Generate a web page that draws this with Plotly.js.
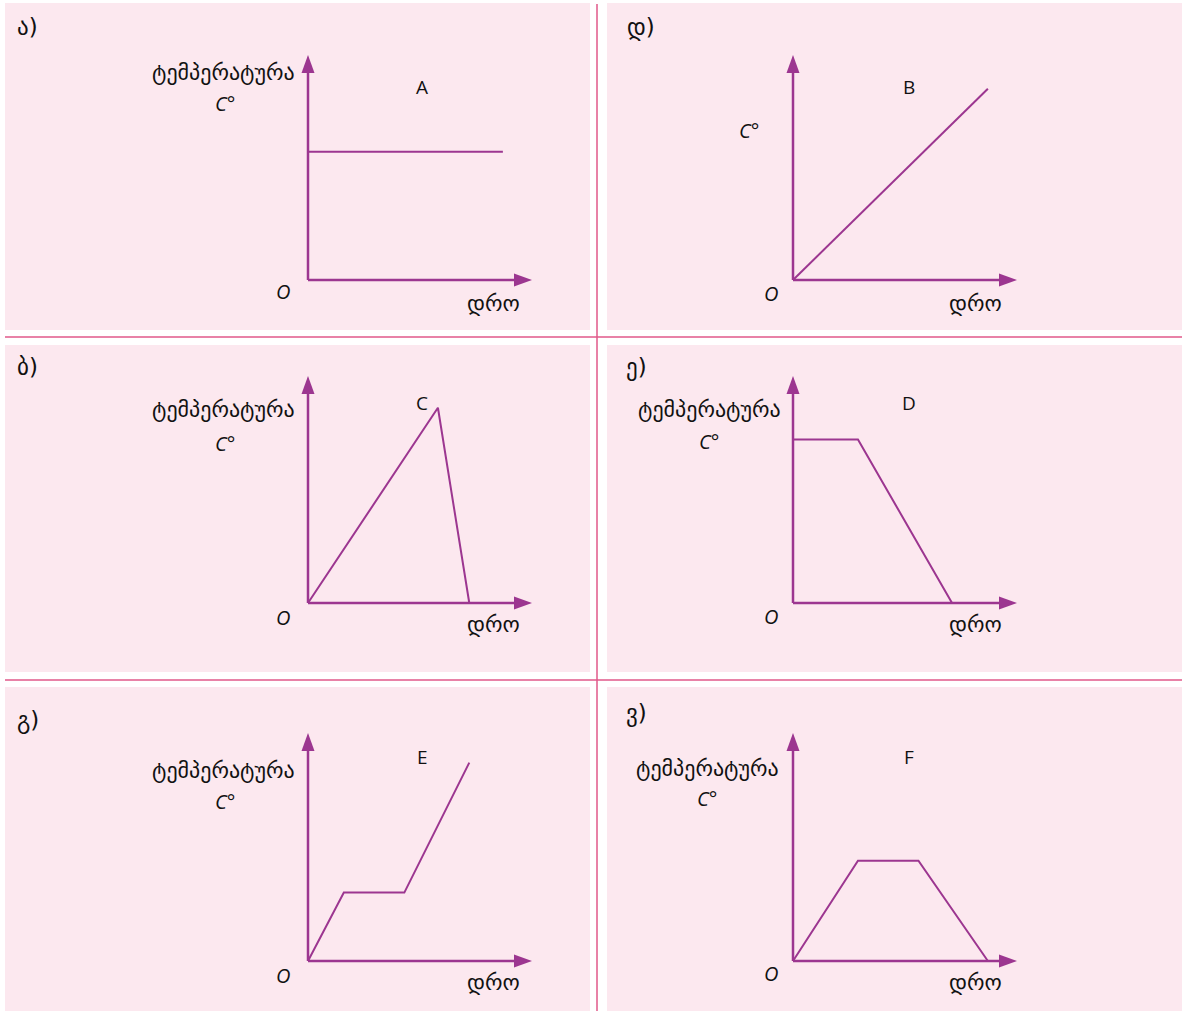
<!DOCTYPE html>
<html>
<head>
<meta charset="utf-8">
<script src="https://cdn.plot.ly/plotly-3.0.1.min.js"></script>
<style>html,body{margin:0;padding:0;background:#fff;}#chart{width:1182px;height:1011px;}</style>
</head>
<body>
<div id="chart"></div>
<script>
// ---------- data (axis units 0..10) ----------
const panelLetters = ['ა)', 'დ)', 'ბ)', 'ე)', 'გ)', 'ვ)'];
const seriesNames  = ['A', 'B', 'C', 'D', 'E', 'F'];
const tempLabel = 'ტემპერატურა';
const unitLabel = 'C°';
const originLabel = 'O';
const timeLabel = 'დრო';
const showTempLabel = [true, false, true, true, true, true];

const timeA = [0, 8.7];            const tempA = [5.7, 5.7];
const timeB = [0, 8.7];            const tempB = [0, 8.5];
const timeC = [0, 5.8, 7.2];       const tempC = [0, 8.6, 0];
const timeD = [0, 2.9, 7.1];       const tempD = [7.2, 7.2, 0];
const timeE = [0, 1.6, 4.3, 7.2];  const tempE = [0, 3.0, 3.0, 8.7];
const timeF = [0, 2.9, 5.6, 8.7];  const tempF = [0, 4.4, 4.4, 0];
const axisMax = 10;

const times = [timeA, timeB, timeC, timeD, timeE, timeF];
const temps = [tempA, tempB, tempC, tempD, tempE, tempF];

// ---------- layout constants ----------
const W = 1182, H = 1011;
const PURPLE = '#9c3690';
const BG = '#fce8ef';
const SEP = '#e0588a';
const FONT = 'Open Sans, DejaVu Sans, sans-serif';
const GEO = 'DejaVu Sans, sans-serif';
const px = x => x / W;
const py = y => 1 - y / H;
const PAD = 14; // pixels of room around each axis frame

// origin pixel & axis tips per panel
const colX = [[308, 532], [793, 1017]];
const rowY = [[280, 55], [603, 376], [961, 733]];

const data = [];
const layout = {
  width: W, height: H,
  margin: {l: 0, r: 0, t: 0, b: 0},
  paper_bgcolor: '#ffffff',
  plot_bgcolor: 'rgba(0,0,0,0)',
  showlegend: false,
  shapes: [],
  annotations: []
};

// panel backgrounds
const panelCols = [[5, 590], [607, 1182]];
const panelRows = [[3, 330], [345, 672], [687, 1011]];
panelRows.forEach(r => panelCols.forEach(c => {
  layout.shapes.push({type: 'rect', xref: 'paper', yref: 'paper', layer: 'below',
    x0: px(c[0]), x1: px(c[1]), y0: py(r[1]), y1: py(r[0]),
    fillcolor: BG, line: {width: 0}});
}));
// separators
[337, 680].forEach(y => layout.shapes.push({type: 'line', xref: 'paper', yref: 'paper', layer: 'below',
  x0: px(5), x1: 1, y0: py(y), y1: py(y), line: {color: SEP, width: 1.5}}));
layout.shapes.push({type: 'line', xref: 'paper', yref: 'paper', layer: 'below',
  x0: px(597), x1: px(597), y0: py(4), y1: 0, line: {color: SEP, width: 1.5}});

// text positions per panel (pixel centres)
const letterPos = [[15, 27], [625, 27], [15, 367], [624, 367], [15, 720], [624, 713]];
const namePos = [[422, 87], [909, 87], [422, 403], [909, 403], [422, 757], [909, 757]];
const tempPos = [[297, 72], [0, 0], [297, 410], [783, 410], [297, 770], [781, 768]];
const unitPos = [[225, 103], [749, 131], [225, 443], [709, 441], [225, 801], [707, 798]];
const originPos = [[283, 291], [771, 293], [283, 617], [771, 616], [283, 975], [771, 973]];
const timePos = [[493, 303], [975, 303], [493, 624], [975, 624], [493, 982], [975, 982]];

function ann(text, p, opts) {
  layout.annotations.push(Object.assign({
    text: text, xref: 'paper', yref: 'paper', x: px(p[0]), y: py(p[1]),
    xanchor: 'center', yanchor: 'middle', showarrow: false,
    font: {family: FONT, size: 19, color: '#111'}
  }, opts || {}));
}

for (let i = 0; i < 6; i++) {
  const col = i % 2, row = Math.floor(i / 2);
  const n = i === 0 ? '' : String(i + 1);
  const xa = 'xaxis' + n, ya = 'yaxis' + n;
  const xr = 'x' + n, yr = 'y' + n;
  const x0 = colX[col][0], x1 = colX[col][1];
  const y0 = rowY[row][0], y1 = rowY[row][1];
  const ux = axisMax / (x1 - x0), uy = axisMax / (y0 - y1);
  layout[xa] = {domain: [px(x0 - PAD), px(x1 + PAD)], range: [-PAD * ux, axisMax + PAD * ux],
    visible: false, fixedrange: true, anchor: yr};
  layout[ya] = {domain: [py(y0 + PAD), py(y1 - PAD)], range: [-PAD * uy, axisMax + PAD * uy],
    visible: false, fixedrange: true, anchor: xr};

  // axes with arrowheads
  layout.shapes.push({type: 'line', xref: xr, yref: yr, x0: 0, x1: 0, y0: 0, y1: axisMax * 0.95,
    line: {color: PURPLE, width: 2.5}});
  layout.shapes.push({type: 'line', xref: xr, yref: yr, x0: 0, x1: axisMax * 0.95, y0: 0, y1: 0,
    line: {color: PURPLE, width: 2.5}});
  layout.shapes.push({type: 'path', xref: xr, yref: yr, xsizemode: 'pixel', ysizemode: 'pixel',
    xanchor: 0, yanchor: axisMax, path: 'M0,0 L-6.5,-18 L6.5,-18 Z',
    fillcolor: PURPLE, line: {width: 0}});
  layout.shapes.push({type: 'path', xref: xr, yref: yr, xsizemode: 'pixel', ysizemode: 'pixel',
    xanchor: axisMax, yanchor: 0, path: 'M0,0 L-18,6.5 L-18,-6.5 Z',
    fillcolor: PURPLE, line: {width: 0}});

  data.push({type: 'scatter', mode: 'lines', x: times[i], y: temps[i], xaxis: xr, yaxis: yr,
    line: {color: PURPLE, width: 2}, cliponaxis: false, hoverinfo: 'skip', name: seriesNames[i]});

  ann(panelLetters[i], letterPos[i], {xanchor: 'left', font: {family: GEO, size: 23, color: '#111'}});
  ann(seriesNames[i], namePos[i]);
  if (showTempLabel[i]) ann(tempLabel, tempPos[i], {xanchor: 'right', font: {family: GEO, size: 22, color: '#111'}});
  ann('<i>' + unitLabel + '</i>', unitPos[i], {font: {family: FONT, size: 20, color: '#111'}});
  ann('<i>' + originLabel + '</i>', originPos[i], {font: {family: FONT, size: 20, color: '#111'}});
  ann(timeLabel, timePos[i], {font: {family: GEO, size: 22, color: '#111'}});
}

Plotly.newPlot('chart', data, layout, {staticPlot: true, displayModeBar: false});
</script>
</body>
</html>
